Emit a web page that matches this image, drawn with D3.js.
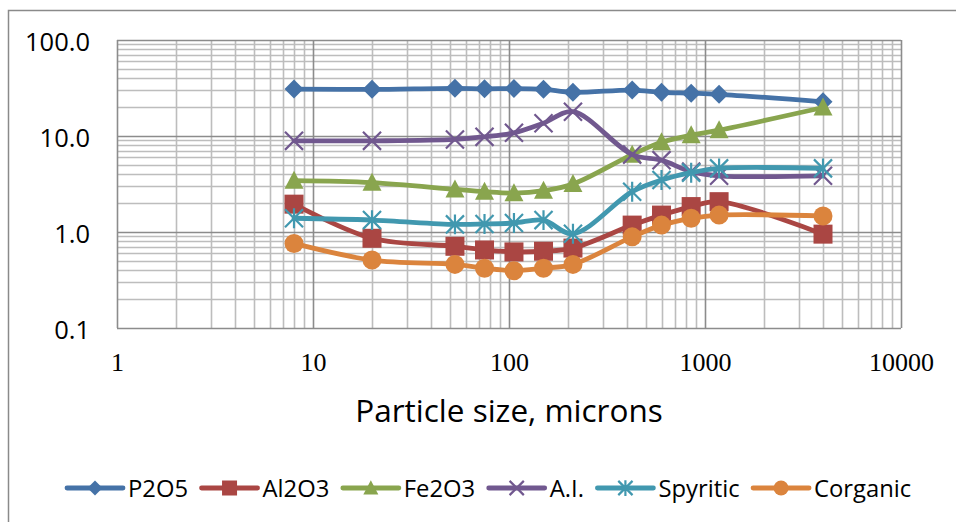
<!DOCTYPE html>
<html>
<head>
<meta charset="utf-8">
<script src="https://cdn.jsdelivr.net/npm/d3@7/dist/d3.min.js"></script>
<style>
  html, body { margin: 0; padding: 0; background: #fff; }
  svg { display: block; }
</style>
</head>
<body>
<svg id="chart" width="956" height="522"></svg>
<script>
// Particle size fractions (microns) and the oxide / component content in each.
const particleSizes = [8, 20, 53, 75, 106, 150, 212, 425, 600, 850, 1180, 4000];
const p2o5      = [30.8, 30.6, 31.4, 31.0, 31.2, 30.6, 28.5, 30.1, 28.5, 27.9, 27.2, 22.7];
const al2o3     = [1.95, 0.86, 0.71, 0.65, 0.62, 0.63, 0.68, 1.18, 1.50, 1.84, 2.07, 0.95];
const fe2o3     = [3.43, 3.27, 2.78, 2.63, 2.54, 2.69, 3.16, 6.4, 8.6, 10.2, 11.5, 19.8];
const acidInsol = [8.9, 8.9, 9.2, 9.8, 10.8, 13.6, 17.9, 6.4, 5.6, 4.25, 3.85, 3.85];
const sPyritic  = [1.39, 1.33, 1.20, 1.21, 1.24, 1.33, 0.96, 2.63, 3.48, 4.15, 4.6, 4.6];
const cOrganic  = [0.76, 0.51, 0.46, 0.42, 0.395, 0.42, 0.46, 0.89, 1.18, 1.39, 1.50, 1.47];

const seriesNames = ["P2O5", "Al2O3", "Fe2O3", "A.I.", "Spyritic", "Corganic"];
const xTickValues = [1, 10, 100, 1000, 10000];
const yTickValues = [0.1, 1, 10, 100];
const xTitle = "Particle size, microns";

const series = [
  { name: seriesNames[0], values: p2o5,      color: "#4572A7", marker: "diamond" },
  { name: seriesNames[1], values: al2o3,     color: "#AA4643", marker: "square" },
  { name: seriesNames[2], values: fe2o3,     color: "#89A54E", marker: "triangle" },
  { name: seriesNames[3], values: acidInsol, color: "#71588F", marker: "x" },
  { name: seriesNames[4], values: sPyritic,  color: "#4198AF", marker: "star" },
  { name: seriesNames[5], values: cOrganic,  color: "#DB843D", marker: "circle" }
];

const svg = d3.select("#chart");
const plot = { left: 117, right: 901, top: 40, bottom: 328 };

const x = d3.scaleLog().domain([1, 10000]).range([plot.left, plot.right]);
const y = d3.scaleLog().domain([0.1, 100]).range([plot.bottom, plot.top]);

// Outer chart frame (only its top and left edges fall inside the view)
svg.append("path")
  .attr("d", "M8.5,522 L8.5,10.5 L956,10.5")
  .attr("fill", "none").attr("stroke", "#8a8a8a").attr("stroke-width", 1.5);

// Log grid: minor lines first, decade lines on top
const minorX = [], majorX = [];
for (let d = 1; d < 10000; d *= 10) for (let k = 2; k <= 9; k++) minorX.push(d * k);
xTickValues.forEach(v => majorX.push(v));
const minorY = [], majorY = [];
for (let d = 0.1; d < 99; d *= 10) for (let k = 2; k <= 9; k++) minorY.push(d * k);
yTickValues.forEach(v => majorY.push(v));

const grid = svg.append("g");
grid.selectAll("line.vx").data(minorX).join("line")
  .attr("x1", d => Math.round(x(d)) + 0.5).attr("x2", d => Math.round(x(d)) + 0.5)
  .attr("y1", plot.top).attr("y2", plot.bottom)
  .attr("stroke", "#bdbdbd").attr("stroke-width", 1.6);
grid.selectAll("line.hy").data(minorY).join("line")
  .attr("y1", d => Math.round(y(d)) + 0.5).attr("y2", d => Math.round(y(d)) + 0.5)
  .attr("x1", plot.left).attr("x2", plot.right)
  .attr("stroke", "#bdbdbd").attr("stroke-width", 1.6);
grid.selectAll("line.mx").data(majorX).join("line")
  .attr("x1", d => Math.round(x(d)) + 0.5).attr("x2", d => Math.round(x(d)) + 0.5)
  .attr("y1", plot.top).attr("y2", plot.bottom)
  .attr("stroke", "#8c8c8c").attr("stroke-width", 1.6);
grid.selectAll("line.my").data(majorY).join("line")
  .attr("y1", d => Math.round(y(d)) + 0.5).attr("y2", d => Math.round(y(d)) + 0.5)
  .attr("x1", plot.left).attr("x2", plot.right)
  .attr("stroke", "#8c8c8c").attr("stroke-width", 1.6);

// Axes: labels only, the grid supplies the lines
const xAxis = d3.axisBottom(x).tickValues(xTickValues).tickFormat(d3.format("d")).tickSize(0).tickPadding(0);
const gx = svg.append("g").attr("transform", `translate(0,${plot.bottom})`).call(xAxis);
gx.select(".domain").remove();
gx.selectAll("text")
  .attr("y", 43).attr("dy", null)
  .attr("font-family", "'Liberation Serif', 'Times New Roman', serif")
  .attr("font-size", 26).attr("fill", "#000");

const yAxis = d3.axisLeft(y).tickValues(yTickValues).tickFormat(d3.format(".1f")).tickSize(0).tickPadding(0);
const gy = svg.append("g").attr("transform", `translate(${plot.left},0)`).call(yAxis);
gy.select(".domain").remove();
gy.selectAll("text")
  .attr("x", -27).attr("dy", 10)
  .attr("font-family", "'Open Sans', sans-serif")
  .attr("font-size", 25.5).attr("fill", "#000");

// Axis title
svg.append("text")
  .attr("x", x(100)).attr("y", 422)
  .attr("text-anchor", "middle")
  .attr("font-family", "'Open Sans', sans-serif")
  .attr("font-size", 31.5).attr("fill", "#000")
  .text(xTitle);

// Marker shapes
function drawMarker(g, type, color, s) {
  const h = s / 2;
  if (type === "diamond") {
    g.append("path").attr("d", `M0,${-h} L${h},0 L0,${h} L${-h},0 Z`).attr("fill", color);
  } else if (type === "square") {
    g.append("rect").attr("x", -h).attr("y", -h).attr("width", s).attr("height", s).attr("fill", color);
  } else if (type === "triangle") {
    g.append("path").attr("d", `M0,${-h * 1.05} L${h},${h * 0.85} L${-h},${h * 0.85} Z`).attr("fill", color);
  } else if (type === "circle") {
    g.append("circle").attr("r", h).attr("fill", color);
  } else if (type === "x" || type === "star") {
    const a = h * 0.95;
    let d = `M${-a},${-a} L${a},${a} M${-a},${a} L${a},${-a}`;
    if (type === "star") d += ` M0,${-h * 1.05} L0,${h * 1.05}`;
    g.append("path").attr("d", d).attr("stroke", color).attr("stroke-width", 2.2).attr("fill", "none");
  }
}

// Series: smoothed line, then its markers
const line = d3.line()
  .x(d => x(d[0]))
  .y(d => y(d[1]))
  .curve(d3.curveCatmullRom.alpha(0.5));

series.forEach(s => {
  const pts = particleSizes.map((p, i) => [p, s.values[i]]);
  const g = svg.append("g");
  g.append("path").datum(pts)
    .attr("d", line)
    .attr("fill", "none")
    .attr("stroke", s.color)
    .attr("stroke-width", 4.8)
    .attr("stroke-linejoin", "round")
    .attr("stroke-linecap", "round");
  g.selectAll("g.m").data(pts).join("g")
    .attr("transform", d => `translate(${x(d[0])},${y(d[1])})`)
    .each(function () { drawMarker(d3.select(this), s.marker, s.color, 19); });
});

// Legend along the bottom
const legend = svg.append("g").attr("transform", "translate(0,488)");
let lx = 67;
series.forEach(s => {
  const item = legend.append("g").attr("transform", `translate(${lx},0)`);
  item.append("line").attr("x1", 0).attr("x2", 56).attr("y1", 0).attr("y2", 0)
    .attr("stroke", s.color).attr("stroke-width", 4.8).attr("stroke-linecap", "round");
  const m = item.append("g").attr("transform", "translate(28,0)");
  drawMarker(m, s.marker, s.color, 15);
  const t = item.append("text").attr("x", 61).attr("y", 9)
    .attr("font-family", "'Open Sans', sans-serif")
    .attr("font-size", 23.8).attr("fill", "#000")
    .text(s.name);
  lx += 61 + t.node().getComputedTextLength() + 13.5;
});
</script>
</body>
</html>
